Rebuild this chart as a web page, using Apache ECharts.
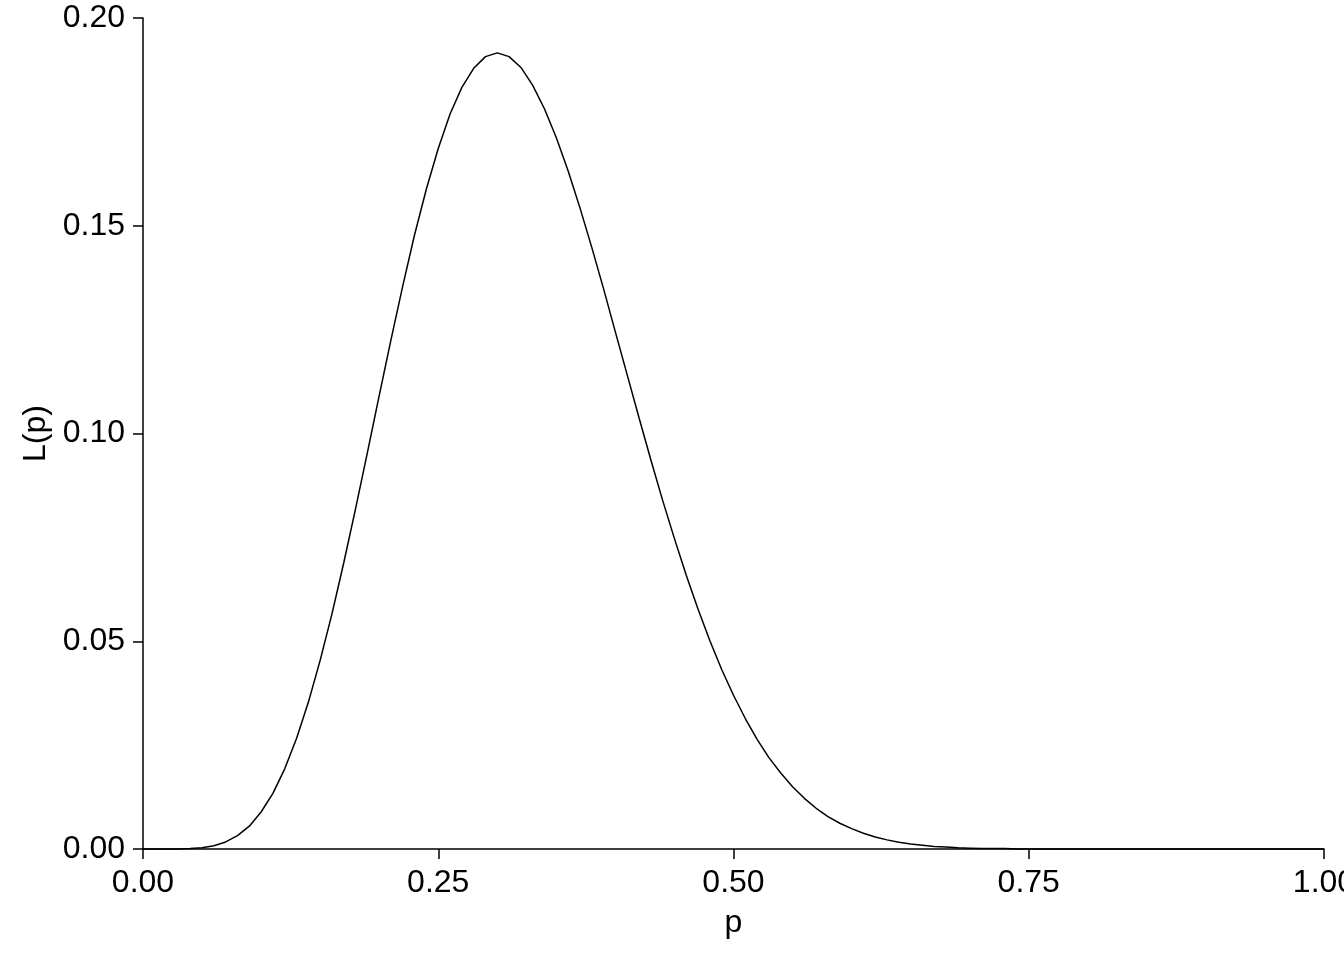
<!DOCTYPE html>
<html>
<head>
<meta charset="utf-8">
<script src="https://cdn.jsdelivr.net/npm/echarts@6/dist/echarts.min.js"></script>
<style>html,body{margin:0;padding:0;background:#fff}#c{width:1344px;height:960px}</style>
</head>
<body>
<div id="c"></div>
<script>
const pValues = [0.00,0.01,0.02,0.03,0.04,0.05,0.06,0.07,0.08,0.09,
  0.10,0.11,0.12,0.13,0.14,0.15,0.16,0.17,0.18,0.19,
  0.20,0.21,0.22,0.23,0.24,0.25,0.26,0.27,0.28,0.29,
  0.30,0.31,0.32,0.33,0.34,0.35,0.36,0.37,0.38,0.39,
  0.40,0.41,0.42,0.43,0.44,0.45,0.46,0.47,0.48,0.49,
  0.50,0.51,0.52,0.53,0.54,0.55,0.56,0.57,0.58,0.59,
  0.60,0.61,0.62,0.63,0.64,0.65,0.66,0.67,0.68,0.69,
  0.70,0.71,0.72,0.73,0.74,0.75,0.76,0.77,0.78,0.79,
  0.80,0.85,0.90,0.95,1.00];
const likelihood = [0,0.0000,0.0000,0.0000,0.0001,0.0003,0.0008,0.0017,0.0032,0.0055,
  0.0089,0.0134,0.0193,0.0266,0.0353,0.0454,0.0566,0.0689,0.0819,0.0954,
  0.1091,0.1226,0.1356,0.1479,0.1589,0.1686,0.1769,0.1833,0.1879,0.1907,
  0.1916,0.1907,0.1881,0.1838,0.1781,0.1712,0.1632,0.1543,0.1448,0.1348,
  0.1244,0.1141,0.1038,0.0937,0.0839,0.0747,0.0659,0.0577,0.0501,0.0432,
  0.0370,0.0314,0.0264,0.0220,0.0183,0.0150,0.0122,0.0098,0.0078,0.0062,
  0.0049,0.0038,0.0029,0.0022,0.0016,0.0012,0.0009,0.0006,0.0005,0.0003,
  0.0002,0.0001,0.0001,0.0001,0.0000,0.0000,0.0000,0.0000,0.0000,0.0000,
  0.0000,0,0,0,0];
const xTicks = [0, 0.25, 0.5, 0.75, 1];
const yTicks = [0, 0.05, 0.10, 0.15, 0.20];

const font = 'Liberation Sans, Arial, sans-serif';
const axisCommon = {
  axisLine: {show: true, lineStyle: {color: '#000', width: 1.5}},
  axisTick: {show: true, length: 10, lineStyle: {color: '#000', width: 1.5}},
  splitLine: {show: false},
  nameTextStyle: {color: '#000', fontSize: 32, fontFamily: font}
};
const chart = echarts.init(document.getElementById('c'), null, {renderer: 'canvas'});
chart.setOption({
  backgroundColor: '#fff',
  animation: false,
  grid: {left: 143, right: 20, top: 18, bottom: 111, containLabel: false, outerBoundsMode: 'none'},
  xAxis: Object.assign({}, axisCommon, {
    type: 'value', min: 0, max: 1, interval: 0.25,
    name: 'p', nameLocation: 'middle', nameGap: 58,
    axisLabel: {color: '#000', fontSize: 32, fontFamily: font, margin: 18,
      formatter: v => v.toFixed(2)}
  }),
  yAxis: Object.assign({}, axisCommon, {
    type: 'value', min: 0, max: 0.2, interval: 0.05,
    name: 'L(p)', nameLocation: 'middle', nameGap: 88, nameRotate: 90,
    axisLabel: {color: '#000', fontSize: 32, fontFamily: font, margin: 18,
      formatter: v => v.toFixed(2)}
  }),
  series: [{
    type: 'line',
    data: pValues.map((p, i) => [p, likelihood[i]]),
    showSymbol: false,
    smooth: false,
    lineStyle: {color: '#000', width: 1.5},
    clip: false
  }]
});
</script>
</body>
</html>
